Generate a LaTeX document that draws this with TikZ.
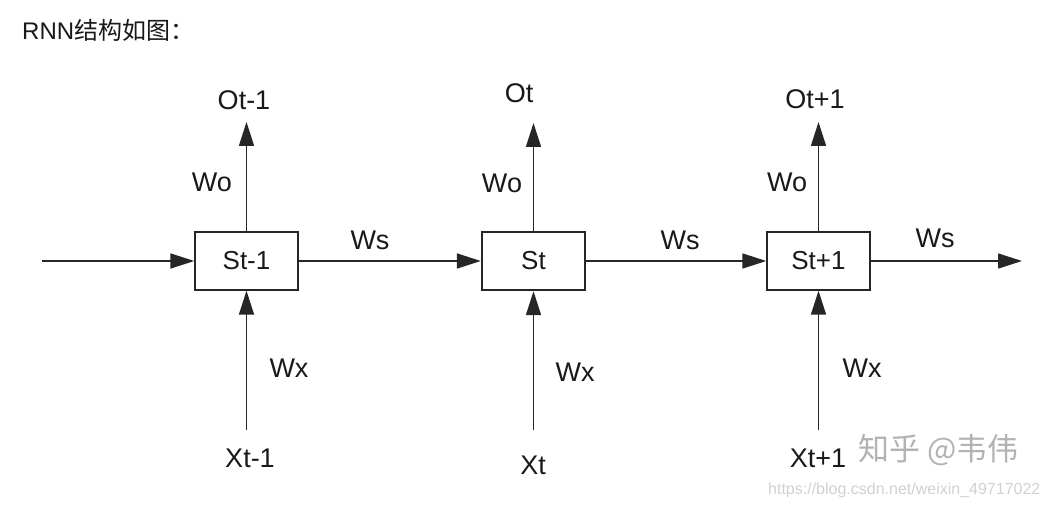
\documentclass[tikz,border=0pt]{standalone}
\usepackage{fontspec}
\setmainfont{Liberation Sans}
\newfontfamily\cjk{Noto Sans CJK SC}
\usetikzlibrary{arrows.meta}
\tikzset{
    cell/.style={draw=black!85,line width=1.4pt,minimum width=103pt,minimum height=58pt,inner sep=0pt,font=\fontsize{26}{30}\selectfont,text=black!90},
    lbl/.style={font=\fontsize{27}{30}\selectfont,text=black!90,inner sep=0pt},
    link/.style={draw=black!85,line width=1.6pt,-{Triangle[length=24pt,width=15pt]}}
}
\begin{document}
\begin{tikzpicture}[x=1pt,y=-1pt]
        \useasboundingbox[fill=white] (0,0) rectangle (1050,508);

        \node[anchor=west,inner sep=0pt,font=\fontsize{24}{28}\selectfont,text=black!90] (title) at (22,30) {RNN\cjk{结构如图：}};

        \node[cell] (s1) at (246.5,261){St-1};
        \node[cell,line width=2.4pt] (s2) at (533.5,261){St};
        \node[cell] (s3) at (818.5,261){St+1};

        \node[lbl] (o1) at (244,100){Ot-1};
        \node[lbl] (o2) at (519,93){Ot};
        \node[lbl] (o3) at (815,99){Ot+1};
        \node[lbl] (x1) at (250,458){Xt-1};
        \node[lbl] (x2) at (533,465){Xt};
        \node[lbl] (x3) at (818,458){Xt+1};

        \coordinate (in) at (42,261);
        \coordinate (out) at (1022,261);
        \coordinate (t1) at (246.5,122);
        \coordinate (t2) at (533.5,123);
        \coordinate (t3) at (818.5,122);
        \coordinate (b1) at (246.5,430);
        \coordinate (b2) at (533.5,430);
        \coordinate (b3) at (818.5,430);

        \path [link] (in) to (s1);
        \path [link] (s1) to (s2);
        \path [link] (s2) to (s3);
        \path [link] (s3) to (out);
        \path [link] (s1) to (t1);
        \path [link] (s2) to (t2);
        \path [link] (s3) to (t3);
        \path [link] (b1) to (s1);
        \path [link] (b2) to (s2);
        \path [link] (b3) to (s3);

        \node[lbl] (wo1) at (212,182){Wo};
        \node[lbl] (wo2) at (502,183){Wo};
        \node[lbl] (wo3) at (787,182){Wo};
        \node[lbl] (ws1) at (370,240){Ws};
        \node[lbl] (ws2) at (680,240){Ws};
        \node[lbl] (ws3) at (935,238){Ws};
        \node[lbl] (wx1) at (289,368){Wx};
        \node[lbl] (wx2) at (575,372){Wx};
        \node[lbl] (wx3) at (862,368){Wx};

        % watermarks
        \node[anchor=west,inner sep=0pt,font=\fontsize{31}{34}\selectfont,text=black!30] (wm) at (858,450){\cjk{知乎} @\cjk{韦伟}};
        \node[anchor=west,inner sep=0pt,font=\fontsize{16}{19}\selectfont,text=black!18] (url) at (768,490){https://blog.csdn.net/weixin\_49717022};
    \end{tikzpicture}
\end{document}
